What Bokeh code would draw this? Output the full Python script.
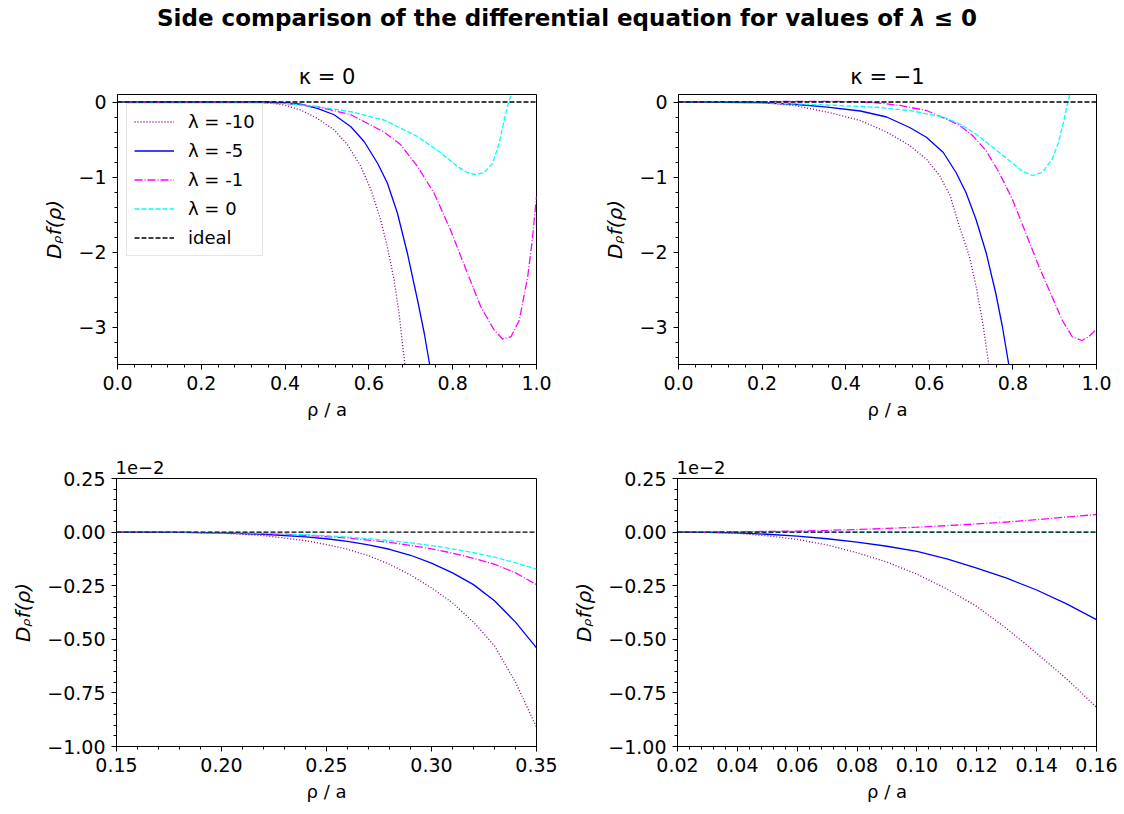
import numpy as np
from bokeh.plotting import figure
from bokeh.models import Range1d, FixedTicker, Legend, LegendItem, Div
from bokeh.layouts import column, row
from bokeh.embed import file_html
from bokeh.resources import INLINE

# ---------------- data ----------------
# Top-left: kappa = 0
tl_m10_x = [0.0, 0.30, 0.358, 0.398, 0.4375, 0.477, 0.517, 0.549, 0.581, 0.605, 0.628, 0.644, 0.660, 0.672, 0.680, 0.686, 0.69]
tl_m10_y = [0.0, 0.0, -0.01, -0.04, -0.107, -0.22, -0.37, -0.57, -0.86, -1.17, -1.57, -1.93, -2.37, -2.82, -3.22, -3.5, -3.75]
tl_m5_x = [0.0, 0.35, 0.398, 0.4375, 0.477, 0.517, 0.557, 0.589, 0.621, 0.644, 0.668, 0.692, 0.716, 0.732, 0.745, 0.75]
tl_m5_y = [0.0, 0.0, -0.01, -0.03, -0.084, -0.17, -0.33, -0.53, -0.82, -1.08, -1.48, -2.02, -2.64, -3.08, -3.5, -3.7]
tl_m1_x = [0.0, 0.30, 0.398, 0.477, 0.557, 0.636, 0.676, 0.716, 0.756, 0.795, 0.835, 0.867, 0.899, 0.919, 0.939, 0.959, 0.979, 0.990, 1.0]
tl_m1_y = [0.0, -0.002, -0.018, -0.062, -0.17, -0.40, -0.57, -0.86, -1.22, -1.71, -2.28, -2.73, -3.04, -3.16, -3.13, -2.91, -2.33, -1.84, -1.26]
tl_0_x = [0.0, 0.30, 0.398, 0.477, 0.557, 0.636, 0.716, 0.772, 0.811, 0.835, 0.855, 0.875, 0.895, 0.911, 0.923, 0.935, 0.941, 0.95]
tl_0_y = [0.0, -0.002, -0.018, -0.062, -0.13, -0.24, -0.46, -0.68, -0.86, -0.94, -0.97, -0.94, -0.82, -0.55, -0.24, 0.03, 0.115, 0.35]

# Top-right: kappa = -1
tr_m10_x = [0.0, 0.10, 0.197, 0.277, 0.356, 0.435, 0.498, 0.553, 0.593, 0.625, 0.650, 0.672, 0.696, 0.712, 0.728, 0.741, 0.746]
tr_m10_y = [0.0, -0.002, -0.01, -0.046, -0.135, -0.247, -0.40, -0.58, -0.76, -0.985, -1.25, -1.66, -2.06, -2.46, -2.95, -3.45, -3.7]
tr_m5_x = [0.0, 0.197, 0.277, 0.356, 0.435, 0.498, 0.553, 0.593, 0.633, 0.664, 0.688, 0.712, 0.736, 0.759, 0.775, 0.791, 0.796]
tr_m5_y = [0.0, -0.008, -0.03, -0.068, -0.12, -0.20, -0.34, -0.47, -0.67, -0.94, -1.21, -1.57, -2.01, -2.55, -3.0, -3.53, -3.75]
tr_m1_x = [0.0, 0.20, 0.36, 0.43, 0.474, 0.530, 0.593, 0.640, 0.672, 0.704, 0.736, 0.767, 0.799, 0.831, 0.862, 0.894, 0.918, 0.942, 0.965, 0.981, 1.0]
tr_m1_y = [0.0, 0.006, 0.008, 0.004, -0.01, -0.046, -0.113, -0.225, -0.31, -0.45, -0.65, -0.94, -1.30, -1.75, -2.19, -2.60, -2.91, -3.13, -3.18, -3.13, -3.03]
tr_0_x = [0.0, 0.20, 0.356, 0.474, 0.553, 0.633, 0.672, 0.712, 0.751, 0.791, 0.822, 0.846, 0.870, 0.894, 0.909, 0.921, 0.933, 0.938, 0.95]
tr_0_y = [0.0, -0.01, -0.04, -0.07, -0.113, -0.20, -0.29, -0.43, -0.60, -0.78, -0.92, -0.98, -0.94, -0.76, -0.54, -0.27, 0.04, 0.13, 0.40]

# Bottom-left: kappa = 0, zoom (values in units of 1e-2)
bl_x = [0.15, 0.18, 0.20, 0.22, 0.24, 0.25, 0.26, 0.27, 0.28, 0.29, 0.30, 0.31, 0.32, 0.33, 0.34, 0.35]
bl_m10 = [0.0, -0.001, -0.005, -0.016, -0.04, -0.058, -0.08, -0.11, -0.15, -0.20, -0.26, -0.33, -0.42, -0.53, -0.70, -0.91]
bl_m5 = [0.0, -0.001, -0.004, -0.01, -0.022, -0.031, -0.043, -0.06, -0.08, -0.108, -0.145, -0.19, -0.245, -0.32, -0.42, -0.54]
bl_m1 = [0.0, -0.001, -0.003, -0.007, -0.015, -0.021, -0.028, -0.037, -0.048, -0.062, -0.078, -0.098, -0.122, -0.15, -0.19, -0.245]
bl_0 = [0.0, -0.001, -0.002, -0.005, -0.012, -0.017, -0.023, -0.031, -0.04, -0.05, -0.063, -0.078, -0.096, -0.117, -0.143, -0.173]

# Bottom-right: kappa = -1, zoom (values in units of 1e-2)
br_x = [0.02, 0.03, 0.04, 0.05, 0.06, 0.07, 0.08, 0.09, 0.10, 0.11, 0.12, 0.13, 0.14, 0.15, 0.16]
br_m10 = [0.0, -0.001, -0.006, -0.017, -0.034, -0.06, -0.096, -0.14, -0.196, -0.265, -0.347, -0.45, -0.565, -0.685, -0.817]
br_m5 = [0.0, -0.001, -0.004, -0.01, -0.019, -0.031, -0.047, -0.066, -0.09, -0.125, -0.168, -0.215, -0.27, -0.335, -0.408]
br_m1 = [0.0, 0.0003, 0.001, 0.003, 0.005, 0.008, 0.012, 0.017, 0.023, 0.030, 0.038, 0.047, 0.058, 0.07, 0.082]
br_0 = [0.0, 0.0, 0.0, 0.0, 0.0, 0.0, 0.0, 0.0, 0.0, 0.0, 0.0, 0.0, 0.0, 0.0, 0.0]

labels = ["\u03bb = -10", "\u03bb = -5", "\u03bb = -1", "\u03bb = 0", "ideal"]
colors = ["#800080", "#0000ff", "#ff00ff", "#00ffff", "#000000"]
dashes = ["1 2", "solid", "8 2 1 2", "5 2", "5 2"]

FONT = "DejaVu Sans"
MINUS = "\u2212"
TICK_FS = "19px"


def fmt(v, nd):
    s = f"{abs(v):.{nd}f}"
    return (MINUS + s) if v < 0 else s


def make_fig(width, height, mb, xr, yr, xt, xminor, yt, yminor, xnd, ynd, title, title_left=False):
    p = figure(width=width, height=height, output_backend="svg", toolbar_location=None,
               x_range=Range1d(*xr), y_range=Range1d(*yr),
               min_border_left=mb[0], min_border_right=mb[1],
               min_border_top=mb[2], min_border_bottom=mb[3])
    p.grid.visible = False
    p.outline_line_color = "black"
    p.outline_line_width = 1
    p.background_fill_color = "white"
    p.border_fill_color = "white"
    p.title.text = title
    p.title.text_font = FONT
    p.title.text_font_style = "normal"
    p.title.text_color = "black"
    if title_left:
        p.title.align = "left"
        p.title.text_font_size = "18px"
        p.title.standoff = 9
        p.title.offset = -1
    else:
        p.title.align = "center"
        p.title.text_font_size = "21px"
        p.title.standoff = 11
    for ax, ticks, minor, nd in ((p.xaxis[0], xt, xminor, xnd), (p.yaxis[0], yt, yminor, ynd)):
        ax.ticker = FixedTicker(ticks=ticks, minor_ticks=minor)
        ax.major_label_overrides = {t: fmt(t, nd) for t in ticks}
        ax.major_tick_out = 5
        ax.major_tick_in = 0
        ax.minor_tick_out = 3
        ax.minor_tick_in = 0
        ax.axis_line_color = "black"
        ax.major_tick_line_color = "black"
        ax.minor_tick_line_color = "black"
        ax.major_label_text_font = FONT
        ax.major_label_text_font_size = TICK_FS
        ax.major_label_text_color = "black"
        ax.axis_label_text_font = FONT
        ax.axis_label_text_color = "black"
    p.xaxis.axis_label = "\u03c1 / a"
    p.xaxis.axis_label_text_font_style = "normal"
    p.xaxis.axis_label_text_font_size = "18px"
    p.yaxis.axis_label = "D\u1d68f(\u03c1)"
    p.yaxis.axis_label_text_font_style = "italic"
    p.yaxis.axis_label_text_font_size = "20px"
    p.xaxis.major_label_standoff = 6
    p.yaxis.major_label_standoff = 6
    p.xaxis.axis_label_standoff = 6
    p.yaxis.axis_label_standoff = 9
    return p


def add_lines(p, series):
    rs = []
    for (x, y), c, d in zip(series, colors, dashes):
        rs.append(p.line(x=x, y=y, line_color=c, line_width=1.3, line_dash=d))
    return rs


top_yt = [-3.0, -2.0, -1.0, 0.0]
top_yminor = list(np.round(np.arange(-3.4, 0.1001, 0.2), 3))
top_xt = [0.0, 0.2, 0.4, 0.6, 0.8, 1.0]
top_xminor = list(np.round(np.arange(0.0, 1.0001, 0.04), 3))
top_ylabels = {-3.0: MINUS + "3", -2.0: MINUS + "2", -1.0: MINUS + "1", 0.0: "0"}

bot_yt = [-1.0, -0.75, -0.5, -0.25, 0.0, 0.25]
bot_yminor = list(np.round(np.arange(-1.0, 0.2501, 0.05), 3))

TOP_H = 386
BOT_H = 382
TOP_MB = 56
BOT_MB = 54

# Top-left
p1 = make_fig(600, TOP_H, (117, 64, TOP_MB, 60), (0, 1), (-3.5, 0.1), top_xt, top_xminor,
              top_yt, top_yminor, 1, 0, "\u03ba = 0")
r1 = add_lines(p1, [(tl_m10_x, tl_m10_y), (tl_m5_x, tl_m5_y), (tl_m1_x, tl_m1_y),
                    (tl_0_x, tl_0_y), ([0.0, 1.0], [0.0, 0.0])])
p1.yaxis.major_label_overrides = top_ylabels
legend = Legend(items=[LegendItem(label=l, renderers=[r]) for l, r in zip(labels, r1)],
                location="top_left")
legend.label_text_font = FONT
legend.label_text_font_size = "18px"
legend.label_text_color = "black"
legend.glyph_width = 40
legend.glyph_height = 21
legend.spacing = 8
legend.padding = 7
legend.margin = 9
legend.label_standoff = 14
legend.border_line_color = "#cccccc"
legend.border_line_width = 1
legend.background_fill_alpha = 0.8
p1.add_layout(legend)

# Top-right
p2 = make_fig(520, TOP_H, (77, 24, TOP_MB, 60), (0, 1), (-3.5, 0.1), top_xt, top_xminor,
              top_yt, top_yminor, 1, 0, "\u03ba = " + MINUS + "1")
add_lines(p2, [(tr_m10_x, tr_m10_y), (tr_m5_x, tr_m5_y), (tr_m1_x, tr_m1_y),
               (tr_0_x, tr_0_y), ([0.0, 1.0], [0.0, 0.0])])
p2.yaxis.major_label_overrides = top_ylabels

# Bottom-left
bl_xt = [0.15, 0.20, 0.25, 0.30, 0.35]
bl_xminor = list(np.round(np.arange(0.15, 0.3501, 0.01), 3))
p3 = make_fig(565, BOT_H, (116, 29, BOT_MB, 60), (0.15, 0.35), (-1.0, 0.25), bl_xt, bl_xminor,
              bot_yt, bot_yminor, 2, 2, "1e" + MINUS + "2", title_left=True)
add_lines(p3, [(bl_x, bl_m10), (bl_x, bl_m5), (bl_x, bl_m1), (bl_x, bl_0),
               ([0.15, 0.35], [0.0, 0.0])])

# Bottom-right
br_xt = [0.02, 0.04, 0.06, 0.08, 0.10, 0.12, 0.14, 0.16]
br_xminor = list(np.round(np.arange(0.02, 0.1601, 0.004), 4))
p4 = make_fig(555, BOT_H, (112, 24, BOT_MB, 60), (0.02, 0.16), (-1.0, 0.25), br_xt, br_xminor,
              bot_yt, bot_yminor, 2, 2, "1e" + MINUS + "2", title_left=True)
add_lines(p4, [(br_x, br_m10), (br_x, br_m5), (br_x, br_m1), (br_x, br_0),
               ([0.02, 0.16], [0.0, 0.0])])

title = Div(text="Side comparison of the differential equation for values of <i>\u03bb</i> \u2264 0",
            width=1120, height=28,
            styles={"font-family": FONT, "font-size": "23px", "font-weight": "bold",
                    "text-align": "center", "width": "1124px", "line-height": "26px"})

layout = column(title, row(p1, p2), row(p3, p4), spacing=0)

with open("out.html", "w") as f:
    f.write(file_html(layout, INLINE, title="chart"))
